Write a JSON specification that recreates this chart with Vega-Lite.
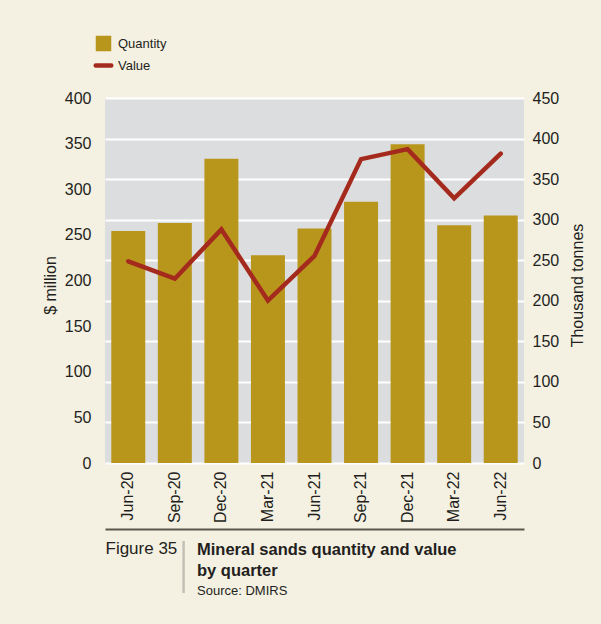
{
  "$schema": "https://vega.github.io/schema/vega-lite/v6.json",
  "width": 419,
  "height": 365,
  "autosize": {"type": "none"},
  "padding": {"left": 105, "top": 98, "right": 77, "bottom": 161},
  "background": "#f4f0e2",
  "config": {
    "font": "Liberation Sans, Arial, sans-serif",
    "view": {"fill": "#dcdddf", "stroke": null},
    "axis": {"labelColor": "#231f20", "titleColor": "#231f20", "titleFontWeight": "normal", "labelFontSize": 16, "titleFontSize": 16, "tickSize": 0, "ticks": false, "domain": false, "labelFlush": false}
  },
  "title": {
    "text": ["Mineral sands quantity and value", "by quarter"],
    "subtitle": "Source: DMIRS",
    "orient": "bottom",
    "anchor": "start",
    "frame": "group",
    "dx": 92,
    "dy": -47,
    "offset": 0,
    "fontSize": 16.5,
    "fontWeight": "bold",
    "color": "#231f20",
    "lineHeight": 21,
    "subtitleFontSize": 13,
    "subtitleColor": "#231f20",
    "subtitlePadding": 5,
    "baseline": "top"
  },
  "data": {
    "values": [
      {"quarter": "Jun-20", "quantity": 286, "value": 221},
      {"quarter": "Sep-20", "quantity": 296, "value": 202},
      {"quarter": "Dec-20", "quantity": 375, "value": 256},
      {"quarter": "Mar-21", "quantity": 256, "value": 178},
      {"quarter": "Jun-21", "quantity": 289, "value": 227},
      {"quarter": "Sep-21", "quantity": 322, "value": 333},
      {"quarter": "Dec-21", "quantity": 393, "value": 344},
      {"quarter": "Mar-22", "quantity": 293, "value": 290},
      {"quarter": "Jun-22", "quantity": 305, "value": 339}
    ]
  },
  "layer": [
    {
      "mark": {"type": "bar", "color": "#b8961c"},
      "encoding": {
        "x": {
          "field": "quarter", "type": "nominal", "sort": null,
          "scale": {"paddingInner": 0.27, "paddingOuter": 0.135},
          "axis": {"orient": "bottom", "labelAngle": -90, "labelPadding": 8, "title": "Figure 35", "titleX": 0, "titleY": 90, "titleAlign": "left", "titleBaseline": "alphabetic", "titleAngle": 0, "titleFontSize": 17}
        },
        "y": {
          "field": "quantity", "type": "quantitative",
          "scale": {"domain": [0, 450], "nice": false},
          "axis": {"orient": "right", "values": [0, 50, 100, 150, 200, 250, 300, 350, 400, 450], "grid": true, "gridColor": "#ffffff", "gridWidth": 2, "labelPadding": 8, "title": "Thousand tonnes", "titleAngle": -90, "titleX": 53, "titleY": 187, "titleAlign": "center", "titleBaseline": "middle"}
        },
        "fill": {"datum": "Quantity", "type": "nominal", "scale": {"domain": ["Quantity", "Value"], "range": ["#b8961c", "#a52a1e"]},
          "legend": {
            "title": null, "orient": "none", "legendX": -8, "legendY": -61, "padding": 0,
            "labelFontSize": 13, "labelColor": "#231f20", "symbolSize": 240, "rowPadding": 4, "labelOffset": 8,
            "encode": {"symbols": {"update": {
              "shape": {"signal": "datum.value === 'Value' ? 'stroke' : 'square'"},
              "fill": {"signal": "scale('fill', datum.value)"},
              "stroke": {"signal": "scale('fill', datum.value)"},
              "strokeWidth": {"signal": "datum.value === 'Value' ? 4.5 : 0"},
              "strokeCap": {"value": "round"},
              "fillOpacity": {"value": 1},
              "opacity": {"value": 1}
            }}}
          }
        }
      }
    },
    {
      "mark": {"type": "line", "strokeWidth": 4.5, "strokeCap": "round", "strokeJoin": "miter"},
      "encoding": {
        "x": {
          "field": "quarter", "type": "nominal", "sort": null,
          "axis": {"orient": "bottom", "offset": 66, "domain": true, "domainColor": "#5a574c", "domainWidth": 2, "labels": false, "grid": false, "title": "|", "titleX": 78, "titleY": 34, "titleAlign": "center", "titleBaseline": "middle", "titleAngle": 0, "titleFont": "DejaVu Sans", "titleFontWeight": 200, "titleFontSize": 52, "titleColor": "#c2bfb5"}
        },
        "y": {
          "field": "value", "type": "quantitative",
          "scale": {"domain": [0, 400], "nice": false},
          "axis": {"orient": "left", "values": [0, 50, 100, 150, 200, 250, 300, 350, 400], "grid": false, "labelPadding": 14, "title": "$ million", "titleAngle": -90, "titleX": -54.5, "titleY": 187, "titleAlign": "center", "titleBaseline": "middle"}
        },
        "stroke": {"datum": "Value", "type": "nominal", "scale": {"domain": ["Quantity", "Value"], "range": ["#b8961c", "#a52a1e"]}, "legend": null}
      }
    }
  ],
  "resolve": {"scale": {"y": "independent", "fill": "shared", "stroke": "independent"}, "axis": {"x": "independent"}}
}
